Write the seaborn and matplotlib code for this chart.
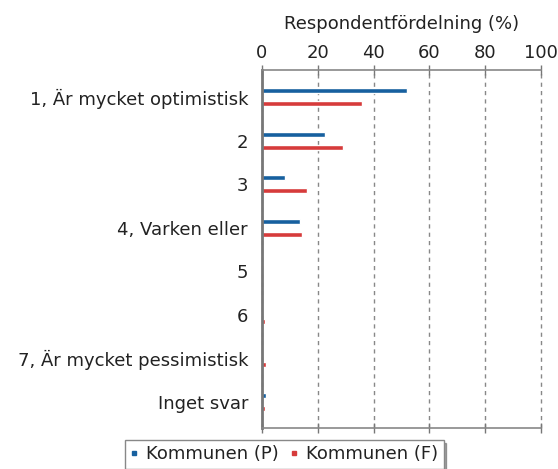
import pandas as pd
import matplotlib
matplotlib.use("Agg")
import matplotlib.pyplot as plt
import seaborn as sns

# values (percent of respondents)
categories = ["1, Är mycket optimistisk", "2", "3", "4, Varken eller",
              "5", "6", "7, Är mycket pessimistisk", "Inget svar"]
series_names = ["Kommunen (P)", "Kommunen (F)"]
p_values = [52, 22.5, 8.3, 13.7, 0, 0.3, 0.3, 1.5]
f_values = [36, 29, 16, 14.4, 0, 1.0, 1.5, 1.0]
x_ticks = [0, 20, 40, 60, 80, 100]
colors = ["#17609f", "#d63b3b"]

df = pd.DataFrame({
    "kategori": categories * 2,
    "serie": [series_names[0]] * len(categories) + [series_names[1]] * len(categories),
    "andel": p_values + f_values,
})

sns.set_style("white")
plt.rcParams["font.family"] = ["DejaVu Sans"]

fig = plt.figure(figsize=(5.58, 4.69), dpi=100)
ax = fig.add_axes([0.4695, 0.0874, 0.5, 0.7633])

sns.barplot(data=df, y="kategori", x="andel", hue="serie", order=categories,
            palette=colors, orient="h", width=0.6, gap=0.62, ax=ax,
            saturation=1, legend=False)

ax.set_xlim(0, 100)
ax.set_ylim(7.6, -0.63)
ax.set_xticks(x_ticks)
ax.xaxis.tick_top()
ax.xaxis.set_label_position("top")
ax.set_xlabel("Respondentfördelning (%)", fontsize=13, color="#222222", labelpad=11)
ax.set_ylabel("")
ax.tick_params(axis="x", which="both", top=True, bottom=True, direction="inout",
               length=7, width=1, color="#777777", labelsize=13, labelcolor="#222222", pad=2)
ax.tick_params(axis="x", labelbottom=False)
ax.tick_params(axis="y", length=0, labelsize=13, labelcolor="#222222", pad=10)

ax.grid(axis="x", linestyle=(0, (3, 3)), color="#888888", linewidth=1)
for gl in ax.xaxis.get_gridlines():
    gl.set_clip_on(False)
ax.set_axisbelow(True)
for side in ["top", "bottom"]:
    ax.spines[side].set_color("#888888")
    ax.spines[side].set_linewidth(1.2)
ax.spines["left"].set_color("#777777")
ax.spines["left"].set_linewidth(2)
ax.spines["right"].set_visible(False)

handles = [plt.Line2D([], [], marker="s", linestyle="", markersize=3.5,
                      color=c) for c in colors]
leg = fig.legend(handles, series_names, loc="upper center",
                 bbox_to_anchor=(0.509, 0.081), ncol=2, frameon=True,
                 fancybox=False, shadow=True, edgecolor="#888888",
                 fontsize=13, handlelength=0.5, handletextpad=0.4,
                 columnspacing=0.6, borderpad=0.3)
for t in leg.get_texts():
    t.set_color("#222222")

fig.savefig("out.png", dpi=100)
